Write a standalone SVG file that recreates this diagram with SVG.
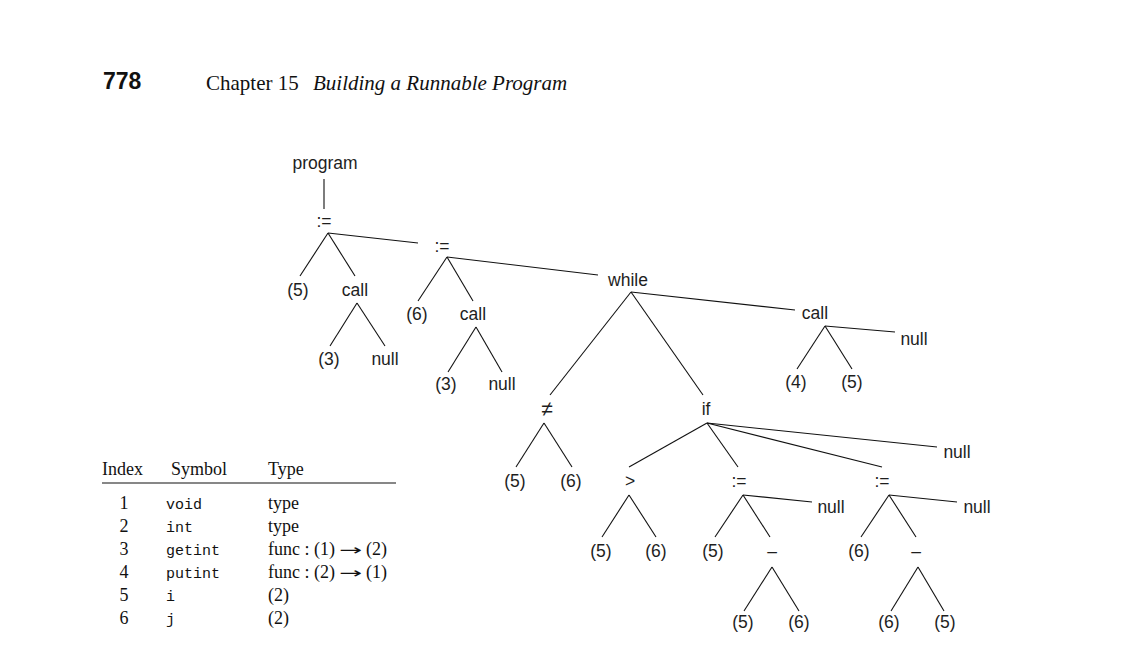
<svg xmlns="http://www.w3.org/2000/svg" width="1128" height="646" viewBox="0 0 1128 646">
<style>
.t{font-family:"Liberation Sans",Arial,sans-serif;font-size:17.5px;fill:#1e1e1e;text-anchor:middle}
.s{font-family:"Liberation Serif","Times New Roman",serif;font-size:18px;fill:#111}
.h{font-family:"Liberation Serif","Times New Roman",serif;font-size:21px;fill:#111}
.m{font-family:"Liberation Mono","Courier New",monospace;font-size:15px;fill:#111}
.ar{font-family:"DejaVu Sans",sans-serif;font-size:15px;fill:#111}
.e line{stroke:#111;stroke-width:1.1}
</style>
<rect width="1128" height="646" fill="#fff"/>
<g id="header">
<text x="103" y="89" font-family="Liberation Sans,Arial,sans-serif" font-size="23" font-weight="bold" fill="#111">778</text>
<text x="206" y="90" class="h">Chapter 15</text>
<text x="313" y="90" class="h" font-style="italic">Building a Runnable Program</text>
</g>
<g id="connectors" class="e">
<line x1="324" y1="179" x2="324" y2="209"/>
<line x1="328" y1="233" x2="300" y2="276"/>
<line x1="328" y1="233" x2="355" y2="276"/>
<line x1="328" y1="233" x2="418" y2="243"/>
<line x1="357" y1="303" x2="330" y2="346"/>
<line x1="357" y1="303" x2="385" y2="346"/>
<line x1="447" y1="257" x2="418" y2="301"/>
<line x1="447" y1="257" x2="473" y2="301"/>
<line x1="447" y1="257" x2="598" y2="275"/>
<line x1="476" y1="327" x2="448" y2="372"/>
<line x1="476" y1="327" x2="502" y2="372"/>
<line x1="631" y1="292" x2="550" y2="395"/>
<line x1="631" y1="292" x2="703" y2="395"/>
<line x1="631" y1="292" x2="795" y2="310"/>
<line x1="825" y1="326" x2="797" y2="369"/>
<line x1="825" y1="326" x2="852" y2="369"/>
<line x1="825" y1="326" x2="895" y2="332"/>
<line x1="544" y1="423" x2="516" y2="467"/>
<line x1="544" y1="423" x2="572" y2="467"/>
<line x1="707" y1="423" x2="629" y2="467"/>
<line x1="707" y1="423" x2="738" y2="467"/>
<line x1="707" y1="423" x2="882" y2="467"/>
<line x1="707" y1="423" x2="937" y2="447"/>
<line x1="629" y1="495" x2="602" y2="537"/>
<line x1="629" y1="495" x2="656" y2="537"/>
<line x1="743" y1="495" x2="715" y2="537"/>
<line x1="743" y1="495" x2="770" y2="537"/>
<line x1="743" y1="495" x2="812" y2="502"/>
<line x1="889" y1="495" x2="861" y2="537"/>
<line x1="889" y1="495" x2="916" y2="537"/>
<line x1="889" y1="495" x2="957" y2="502"/>
<line x1="772" y1="567" x2="744" y2="611"/>
<line x1="772" y1="567" x2="799" y2="611"/>
<line x1="918" y1="567" x2="891" y2="611"/>
<line x1="918" y1="567" x2="944" y2="611"/>
</g>
<g id="n-program"><text class="t" x="325" y="169">program</text></g>
<g id="n-assign1"><text class="t" x="324" y="227">:=</text></g>
<g id="n-5a"><text class="t" x="298" y="296">(5)</text></g>
<g id="n-call1"><text class="t" x="355" y="296">call</text></g>
<g id="n-3a"><text class="t" x="329" y="365">(3)</text></g>
<g id="n-null1"><text class="t" x="385" y="365">null</text></g>
<g id="n-assign2"><text class="t" x="442" y="252">:=</text></g>
<g id="n-6a"><text class="t" x="417" y="320">(6)</text></g>
<g id="n-call2"><text class="t" x="473" y="320">call</text></g>
<g id="n-3b"><text class="t" x="446" y="390">(3)</text></g>
<g id="n-null2"><text class="t" x="502" y="390">null</text></g>
<g id="n-while"><text class="t" x="628" y="286">while</text></g>
<g id="n-call3"><text class="t" x="815" y="319">call</text></g>
<g id="n-null3"><text class="t" x="914" y="345">null</text></g>
<g id="n-4a"><text class="t" x="796" y="388">(4)</text></g>
<g id="n-5b"><text class="t" x="852" y="388">(5)</text></g>
<g id="n-ne"><text class="t" x="547" y="416" style="font-size:21px">≠</text></g>
<g id="n-if"><text class="t" x="706" y="415">if</text></g>
<g id="n-5c"><text class="t" x="515" y="487">(5)</text></g>
<g id="n-6b"><text class="t" x="571" y="487">(6)</text></g>
<g id="n-gt"><text class="t" x="630" y="487">&gt;</text></g>
<g id="n-assign3"><text class="t" x="739" y="487">:=</text></g>
<g id="n-null4"><text class="t" x="831" y="513">null</text></g>
<g id="n-assign4"><text class="t" x="882" y="487">:=</text></g>
<g id="n-null5"><text class="t" x="977" y="513">null</text></g>
<g id="n-null6"><text class="t" x="957" y="458">null</text></g>
<g id="n-5d"><text class="t" x="601" y="557">(5)</text></g>
<g id="n-6c"><text class="t" x="656" y="557">(6)</text></g>
<g id="n-5e"><text class="t" x="713" y="557">(5)</text></g>
<g id="n-minus1"><text class="t" x="772" y="557">–</text></g>
<g id="n-6d"><text class="t" x="859" y="557">(6)</text></g>
<g id="n-minus2"><text class="t" x="916" y="557">–</text></g>
<g id="n-5f"><text class="t" x="743" y="628">(5)</text></g>
<g id="n-6e"><text class="t" x="799" y="628">(6)</text></g>
<g id="n-6f"><text class="t" x="889" y="628">(6)</text></g>
<g id="n-5g"><text class="t" x="945" y="628">(5)</text></g>
<g id="table">
<text class="s" x="102" y="475">Index</text>
<text class="s" x="171" y="475">Symbol</text>
<text class="s" x="268" y="475">Type</text>
<line x1="102" y1="483" x2="396" y2="483" stroke="#111" stroke-width="1.2"/>
<g class="s" text-anchor="middle">
<text x="124" y="509">1</text><text x="124" y="532">2</text><text x="124" y="555">3</text>
<text x="124" y="578">4</text><text x="124" y="601">5</text><text x="124" y="624">6</text>
</g>
<g class="m">
<text x="166" y="509">void</text><text x="166" y="532">int</text><text x="166" y="555">getint</text>
<text x="166" y="578">putint</text><text x="166" y="601">i</text><text x="166" y="624">j</text>
</g>
<g class="s">
<text x="268" y="509">type</text><text x="268" y="532">type</text>
<text x="268" y="555">func : (1)</text>
<text class="ar" x="339" y="555" textLength="23" lengthAdjust="spacingAndGlyphs">→</text>
<text x="366" y="555">(2)</text>
<text x="268" y="578">func : (2)</text>
<text class="ar" x="339" y="578" textLength="23" lengthAdjust="spacingAndGlyphs">→</text>
<text x="366" y="578">(1)</text>
<text x="268" y="601">(2)</text><text x="268" y="624">(2)</text>
</g>
</g>
</svg>
